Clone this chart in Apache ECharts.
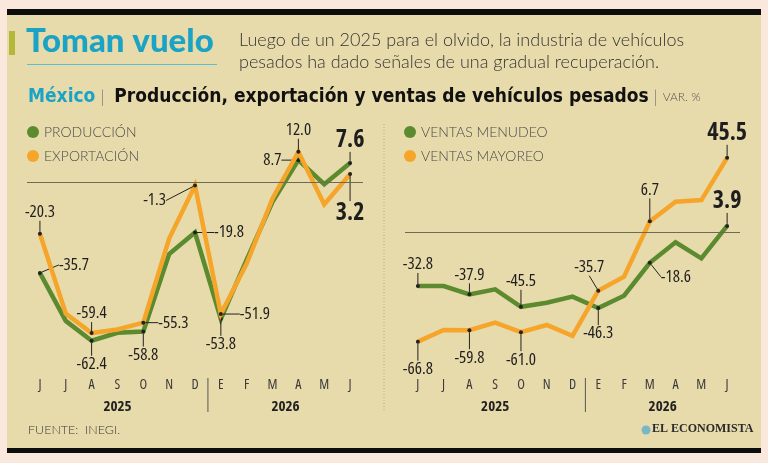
<!DOCTYPE html>
<html><head><meta charset="utf-8">
<script src="https://cdn.jsdelivr.net/npm/echarts@6/dist/echarts.min.js"></script>
<style>html,body{margin:0;padding:0;background:#fbe8dc;}#c{width:768px;height:463px;}</style>
</head><body><div id="c"></div>
<script>
// ---- data ----
const months = ['J','J','A','S','O','N','D','E','F','M','A','M','J'];
const years = ['2025','2026'];
const produccion  = [-35.7, -54.6, -62.4, -59.3, -58.8, -28.3, -19.8, -53.8, -30.5, -7.7, 8.7, -0.8, 7.6];
const exportacion = [-20.3, -51.7, -59.4, -58.0, -55.3, -22.2, -1.3, -51.9, -32.0, -6.4, 12.0, -8.7, 3.2];
const menudeo     = [-32.8, -32.8, -37.9, -34.8, -45.5, -43.0, -39.3, -46.3, -38.7, -18.6, -6.1, -15.9, 3.9];
const mayoreo     = [-66.8, -59.7, -59.8, -55.2, -61.0, -56.6, -63.3, -35.7, -27.1, 6.7, 18.7, 19.7, 45.5];
const seriesNames = ['PRODUCCIÓN','EXPORTACIÓN','VENTAS MENUDEO','VENTAS MAYOREO'];

// ---- label placement (style) ----
// [position, dx, dy, bold]
const labelSpec = [
  {0:['right',14,-8], 2:['bottom',0,10], 4:['bottom',0,10], 6:['right',14,0], 7:['bottom',0,12], 10:['left',-12,0], 12:['top',0,-6,true]},
  {0:['top',0,-8], 2:['top',0,-6], 4:['right',10,0], 6:['left',-24,15], 7:['right',14,0], 10:['top',0,-8], 12:['bottom',0,22,true]},
  {0:['top',0,-8], 2:['top',0,-6], 4:['top',0,-12], 7:['bottom',0,12], 9:['right',6,14], 12:['top',0,-8,true]},
  {0:['bottom',0,14], 2:['bottom',0,14], 4:['bottom',0,14], 7:['top',-9,-10], 9:['top',0,-18], 12:['top',0,-8,true]}
];

const GREEN = '#5b8a2f', ORANGE = '#f6a52b', CYAN = '#1ba3c6';
const COND = "'Open Sans',sans-serif";
const LIGHT = "Lato,'Open Sans',sans-serif";
const HEAD = "'DejaVu Sans Condensed','DejaVu Sans',sans-serif";

function buildData(vals, si) {
  const spec = labelSpec[si];
  return vals.map((v, i) => {
    const s = spec[i];
    if (!s) return v;
    return {
      value: v,
      symbol: 'circle', symbolSize: 4,
      itemStyle: {color: '#222', borderWidth: 0},
      label: {
        show: true, position: s[0], distance: 3,
        formatter: p => p.value.toFixed(1),
        fontFamily: COND, fontStyle: 'condensed',
        fontSize: s[3] ? 24 : 17,
        fontWeight: s[3] ? 'bold' : 'normal',
        color: '#1e1e1e'
      },
      labelLine: {show: true, lineStyle: {color: '#222', width: 1}}
    };
  });
}

function lineSeries(name, vals, si, color, gi) {
  return {
    name, type: 'line', xAxisIndex: gi, yAxisIndex: gi,
    data: buildData(vals, si),
    symbol: 'none', showSymbol: true,
    lineStyle: {color, width: 4.5, join: 'miter'},
    itemStyle: {color},
    z: si === 1 || si === 3 ? 3 : 2,
    labelLayout: p => { const s = labelSpec[si][p.dataIndex]; return s ? {dx: s[1], dy: s[2]} : {}; },
    labelLine: {show: true, lineStyle: {color: '#222', width: 1}},
    animation: false
  };
}

const zeroLine = {silent: true, symbol: 'none', label: {show: false},
  lineStyle: {color: '#6e6a55', width: 1, type: 'solid'}, data: [{yAxis: 0}]};

const xAx = gi => ({
  type: 'category', gridIndex: gi, data: months, boundaryGap: true,
  axisLine: {show: false}, axisTick: {show: false},
  axisLabel: {margin: 18, fontFamily: COND, fontStyle: 'condensed', fontSize: 14, color: '#3a3a3a'}
});

const legendText = {fontFamily: LIGHT, fontWeight: 300, fontSize: 14, color: '#4a4a4a'};

const chart = echarts.init(document.getElementById('c'));
const option = {
  backgroundColor: '#fbe8dc',
  animation: false,
  grid: [
    {left: 27, width: 336, top: 120, height: 240},
    {left: 405, width: 335, top: 120, height: 240}
  ],
  xAxis: [xAx(0), xAx(1)],
  yAxis: [
    {type: 'value', gridIndex: 0, min: -70, max: 24.5, show: false, splitLine: {show: false}},
    {type: 'value', gridIndex: 1, min: -78, max: 68.6, show: false, splitLine: {show: false}}
  ],
  legend: [
    {data: [seriesNames[0], seriesNames[1]], left: 27, top: 125, padding: 0, orient: 'vertical', icon: 'circle',
     itemWidth: 12, itemHeight: 12, itemGap: 10, selectedMode: false, textStyle: legendText},
    {data: [seriesNames[2], seriesNames[3]], left: 404, top: 125, padding: 0, orient: 'vertical', icon: 'circle',
     itemWidth: 12, itemHeight: 12, itemGap: 10, selectedMode: false, textStyle: legendText}
  ],
  series: [
    Object.assign(lineSeries(seriesNames[0], produccion, 0, GREEN, 0), {markLine: zeroLine}),
    lineSeries(seriesNames[1], exportacion, 1, ORANGE, 0),
    Object.assign(lineSeries(seriesNames[2], menudeo, 2, GREEN, 1), {markLine: zeroLine}),
    lineSeries(seriesNames[3], mayoreo, 3, ORANGE, 1)
  ]
};
chart.setOption(option);

// ---- decorations ----
const deco = [
  {type: 'rect', shape: {x: 7, y: 15, width: 754, height: 433}, style: {fill: '#e8dbab'}, z: -10, silent: true},
  {type: 'rect', shape: {x: 7, y: 9, width: 754, height: 6}, style: {fill: '#0d0d0d'}, z: -9},
  {type: 'rect', shape: {x: 7, y: 448, width: 754, height: 5}, style: {fill: '#0d0d0d'}, z: -9},
  {type: 'rect', shape: {x: 9, y: 31, width: 6, height: 24}, style: {fill: '#b4b83a'}},
  {type: 'text', left: 26, top: 25, style: {text: 'Toman vuelo', fontFamily: "Lato,'Open Sans',sans-serif", fontWeight: 900, fontSize: 33, fill: CYAN}},
  {type: 'line', shape: {x1: 27, y1: 64.5, x2: 217, y2: 64.5}, style: {stroke: '#5bbfd6', lineWidth: 1}},
  {type: 'text', left: 239, top: 29, style: {text: 'Luego de un 2025 para el olvido, la industria de vehículos\npesados ha dado señales de una gradual recuperación.',
    fontFamily: LIGHT, fontWeight: 300, fontSize: 18, lineHeight: 22, fill: '#333'}},
  {type: 'text', left: 28, top: 88, style: {
    text: '{c|México}{s| |  }{b|Producción, exportación y ventas de vehículos pesados}{s| | }{v|VAR. %}',
    rich: {
      c: {fontFamily: HEAD, fontWeight: 'bold', fontSize: 19, fill: CYAN},
      s: {fontFamily: LIGHT, fontWeight: 300, fontSize: 18, fill: '#777'},
      b: {fontFamily: HEAD, fontWeight: 'bold', fontSize: 19, fill: '#111'},
      v: {fontFamily: LIGHT, fontWeight: 300, fontSize: 12, fill: '#555'}
    }}},
  {type: 'line', shape: {x1: 384, y1: 124, x2: 384, y2: 412}, style: {stroke: '#b0a98a', lineWidth: 1, lineDash: [1, 2]}},
  {type: 'text', left: 28, top: 423, style: {text: 'FUENTE:  INEGI.', fontFamily: LIGHT, fontWeight: 300, fontSize: 12.5, fill: '#3a3a3a'}},
  {type: 'circle', shape: {cx: 646, cy: 430, r: 4.5}, style: {fill: '#7bb6c6'}},
  {type: 'text', left: 652, top: 423, style: {text: 'EL ECONOMISTA', fontFamily: "'Liberation Serif',serif", fontWeight: 'bold', fontSize: 12, fill: '#2a2a2a'}}
];
// year labels & separators, positioned from the axes
[0, 1].forEach(gi => {
  const xD = chart.convertToPixel({xAxisIndex: gi}, 6);
  const xE = chart.convertToPixel({xAxisIndex: gi}, 7);
  const x0 = chart.convertToPixel({xAxisIndex: gi}, 0);
  const x12 = chart.convertToPixel({xAxisIndex: gi}, 12);
  const sep = (xD + xE) / 2;
  deco.push({type: 'line', shape: {x1: sep, y1: 378, x2: sep, y2: 412}, style: {stroke: '#555', lineWidth: 1}});
  [[(x0 + xD) / 2, years[0]], [(xE + x12) / 2, years[1]]].forEach(([x, t]) => deco.push({type: 'text', x, y: 407,
    style: {text: t, align: 'center', verticalAlign: 'middle', fontFamily: COND, fontStyle: 'condensed', fontWeight: 'bold', fontSize: 15, fill: '#222'}}));
});
chart.setOption({graphic: deco});
</script></body></html>
